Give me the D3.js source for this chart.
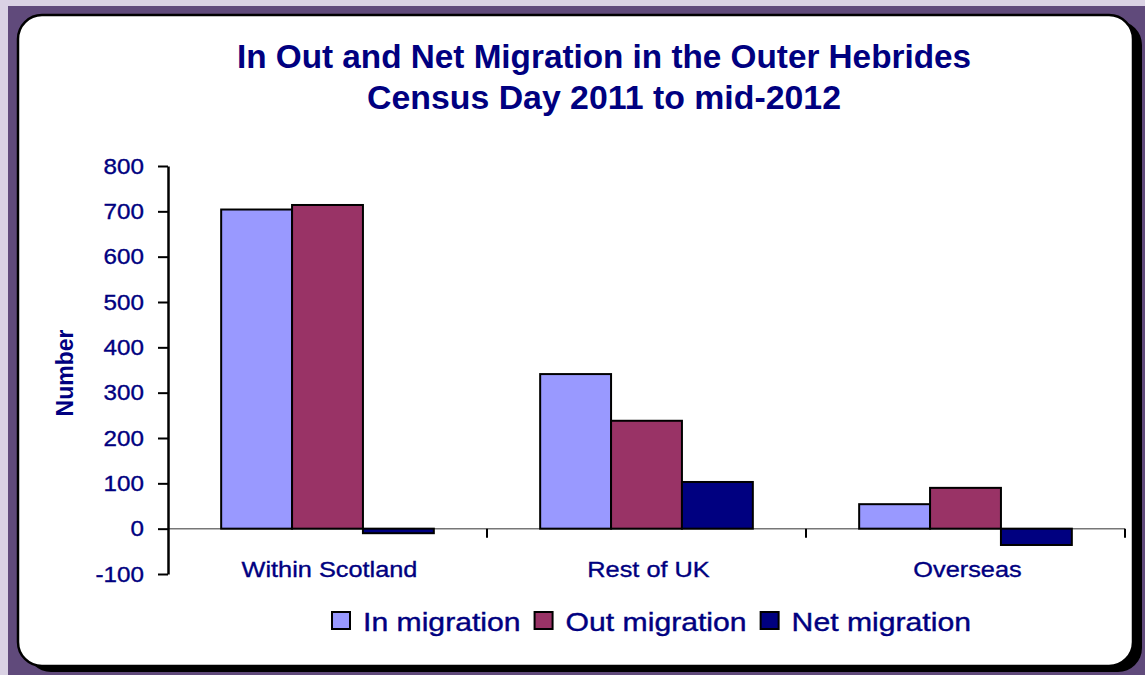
<!DOCTYPE html>
<html>
<head>
<meta charset="utf-8">
<script src="https://cdn.jsdelivr.net/npm/d3@7"></script>
<style>
body{margin:0;padding:0;background:#DAD2E4;}
svg{display:block;font-family:"Liberation Sans",Arial,sans-serif;}
</style>
</head>
<body>
<svg id="chart" width="1145" height="675"></svg>
<script>
const categories = ["Within Scotland", "Rest of UK", "Overseas"];
const seriesNames = ["In migration", "Out migration", "Net migration"];
const inMigration = [704, 341, 54];
const outMigration = [714, 238, 90];
const netMigration = [-10, 103, -36];
const yTicks = [-100, 0, 100, 200, 300, 400, 500, 600, 700, 800];
const titleLines = ["In Out and Net Migration in the Outer Hebrides", "Census Day 2011 to mid-2012"];
const yLabel = "Number";

const seriesValues = [inMigration, outMigration, netMigration];
const colors = ["#9999FF", "#993366", "#000080"];
const navy = "#000080";

const svg = d3.select("#chart");

// background
svg.append("rect").attr("x", 0).attr("y", 0).attr("width", 1145).attr("height", 675).attr("fill", "#DAD2E4");
svg.append("rect").attr("x", 8).attr("y", 6).attr("width", 1137).attr("height", 669).attr("fill", "#604A7B");
// panel shadow + panel
svg.append("rect").attr("x", 27).attr("y", 21).attr("width", 1115).attr("height", 651).attr("rx", 24).attr("fill", "#000");
svg.append("rect").attr("x", 18).attr("y", 15).attr("width", 1115).attr("height", 651).attr("rx", 24)
  .attr("fill", "#fff").attr("stroke", "#000").attr("stroke-width", 2.5);

function stretch(sel, f) {
  let total = 0;
  sel.each(function() {
    const w = this.getComputedTextLength();
    this.setAttribute("textLength", w * f);
    this.setAttribute("lengthAdjust", "spacingAndGlyphs");
    total += w * f;
  });
  return total;
}

// title
const titleWidths = [734, 474];
const titleY = [68, 109];
titleLines.forEach((t, i) => {
  svg.append("text").attr("x", 604).attr("y", titleY[i]).attr("text-anchor", "middle")
    .attr("font-size", 32.5).attr("font-weight", "bold").attr("fill", navy)
    .attr("textLength", titleWidths[i]).attr("lengthAdjust", "spacingAndGlyphs").text(t);
});

// scales
const x = d3.scaleBand().domain(categories).range([168, 1125]).padding(0);
const bw = x.bandwidth();
const xs = d3.scaleBand().domain(seriesNames).range([bw / 6, bw - bw / 6]).padding(0);
const y = d3.scaleLinear().domain([-100, 800]).range([574, 166]);

// x axis line at zero
svg.append("line").attr("x1", 168).attr("x2", 1125).attr("y1", y(0)).attr("y2", y(0))
  .attr("stroke", "#777").attr("stroke-width", 1.5);
// category tick marks
const boundaries = categories.map(c => x(c) + bw);
svg.selectAll(".xtick").data(boundaries).enter().append("line")
  .attr("x1", d => d).attr("x2", d => d).attr("y1", y(0)).attr("y2", y(0) + 9)
  .attr("stroke", "#000").attr("stroke-width", 2);

// bars
const groups = svg.selectAll(".cat").data(categories).enter().append("g")
  .attr("transform", d => `translate(${x(d)},0)`);
groups.each(function(cat, ci) {
  const g = d3.select(this);
  seriesNames.forEach((s, si) => {
    const v = seriesValues[si][ci];
    g.append("rect")
      .attr("x", xs(s)).attr("width", xs.bandwidth())
      .attr("y", y(Math.max(0, v))).attr("height", Math.abs(y(v) - y(0)))
      .attr("fill", colors[si]).attr("stroke", "#000").attr("stroke-width", 2);
  });
});

// y axis
const yAxis = svg.append("g").attr("transform", "translate(168,0)")
  .call(d3.axisLeft(y).tickValues(yTicks).tickSize(10).tickSizeOuter(0).tickPadding(14).tickFormat(d => String(d)));
yAxis.select(".domain").attr("stroke", "#000").attr("stroke-width", 2.5);
yAxis.selectAll(".tick line").attr("stroke", "#000").attr("stroke-width", 2);
yAxis.selectAll(".tick text").attr("font-size", 22).attr("fill", navy)
  .attr("stroke", navy).attr("stroke-width", 0.35)
  .attr("font-family", "Liberation Sans, Arial, sans-serif");
stretch(yAxis.selectAll(".tick text"), 1.1);

// category labels
const catLabels = svg.selectAll(".catlabel").data(categories).enter().append("text")
  .attr("x", d => x(d) + bw / 2 + 2).attr("y", 577).attr("text-anchor", "middle")
  .attr("font-size", 22).attr("fill", navy).attr("stroke", navy).attr("stroke-width", 0.35).text(d => d);
stretch(catLabels, 1.15);

// y label
svg.append("text").attr("transform", "translate(73,373) rotate(-90)").attr("text-anchor", "middle")
  .attr("font-size", 23).attr("font-weight", "bold").attr("fill", navy).text(yLabel);

// legend
const legend = svg.append("g");
let lx = 332;
seriesNames.forEach((s, i) => {
  legend.append("rect").attr("x", lx).attr("y", 612).attr("width", 18).attr("height", 17)
    .attr("fill", colors[i]).attr("stroke", "#000").attr("stroke-width", 2);
  const t = legend.append("text").attr("x", lx + 31).attr("y", 631).attr("font-size", 26)
    .attr("fill", navy).attr("stroke", navy).attr("stroke-width", 0.4).text(s);
  const w = stretch(t, 1.16);
  lx = lx + 31 + w + 14;
});
</script>
</body>
</html>
